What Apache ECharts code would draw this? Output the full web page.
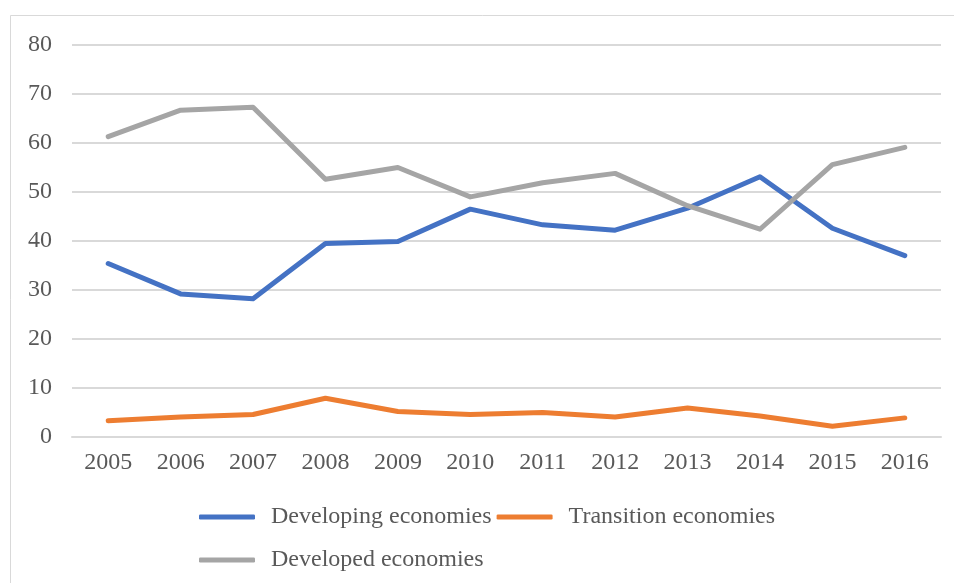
<!DOCTYPE html>
<html>
<head>
<meta charset="utf-8">
<script src="https://cdn.jsdelivr.net/npm/echarts@6/dist/echarts.min.js"></script>
<style>
  html, body { margin: 0; padding: 0; background: #ffffff; }
  #chart { width: 954px; height: 583px; }
</style>
</head>
<body>
<div id="chart"></div>
<script>
// Years on the category axis
const years = ['2005', '2006', '2007', '2008', '2009', '2010', '2011', '2012', '2013', '2014', '2015', '2016'];

// Share by economy group (%)
const developing = [35.4, 29.2, 28.2, 39.5, 39.9, 46.5, 43.3, 42.2, 46.7, 53.1, 42.6, 37.0];
const transition = [3.3, 4.1, 4.6, 7.9, 5.2, 4.6, 5.0, 4.1, 5.9, 4.3, 2.2, 3.9];
const developed = [61.3, 66.7, 67.3, 52.6, 55.0, 49.0, 51.9, 53.8, 47.2, 42.4, 55.6, 59.1];

const seriesNames = ['Developing economies', 'Transition economies', 'Developed economies'];
const seriesColors = ['#4472C4', '#ED7D31', '#A5A5A5'];

const FONT = '"Liberation Serif", "Times New Roman", serif';
const TEXT = '#595959';
const GRID = '#d9d9d9';

const chart = echarts.init(document.getElementById('chart'), null, { renderer: 'canvas' });

function lineSeries(name, data, color) {
  return {
    name: name,
    type: 'line',
    data: data,
    symbol: 'none',
    smooth: false,
    color: color,
    lineStyle: { width: 5, color: color, cap: 'round', join: 'round' },
    emphasis: { disabled: true }
  };
}

chart.setOption({
  animation: false,
  backgroundColor: '#ffffff',
  graphic: [{
    type: 'rect',
    shape: { x: 10.5, y: 15.5, width: 960, height: 600 },
    style: { fill: 'none', stroke: GRID, lineWidth: 1 },
    silent: true,
    z: -10
  }],
  grid: { left: 72, right: 13, top: 45, bottom: 146, containLabel: false },
  legend: {
    data: seriesNames,
    left: 199,
    top: 498,
    width: 590,
    itemWidth: 56,
    itemHeight: 5,
    itemGap: 5,
    icon: 'roundRect',
    padding: 0,
    selectedMode: false,
    textStyle: {
      fontFamily: FONT,
      fontSize: 24,
      color: TEXT,
      lineHeight: 38,
      padding: [0, 0, 0, 11]
    }
  },
  xAxis: {
    type: 'category',
    data: years,
    boundaryGap: true,
    axisLine: { show: true, lineStyle: { color: GRID, width: 2 } },
    axisTick: { show: false },
    axisLabel: {
      fontFamily: FONT,
      fontSize: 24,
      color: TEXT,
      margin: 14
    },
    splitLine: { show: false }
  },
  yAxis: {
    type: 'value',
    min: 0,
    max: 80,
    interval: 10,
    axisLine: { show: false },
    axisTick: { show: false },
    axisLabel: {
      fontFamily: FONT,
      fontSize: 24,
      color: TEXT,
      margin: 20
    },
    splitLine: { show: true, lineStyle: { color: GRID, width: 2 } }
  },
  series: [
    lineSeries(seriesNames[0], developing, seriesColors[0]),
    lineSeries(seriesNames[1], transition, seriesColors[1]),
    lineSeries(seriesNames[2], developed, seriesColors[2])
  ]
});
</script>
</body>
</html>
